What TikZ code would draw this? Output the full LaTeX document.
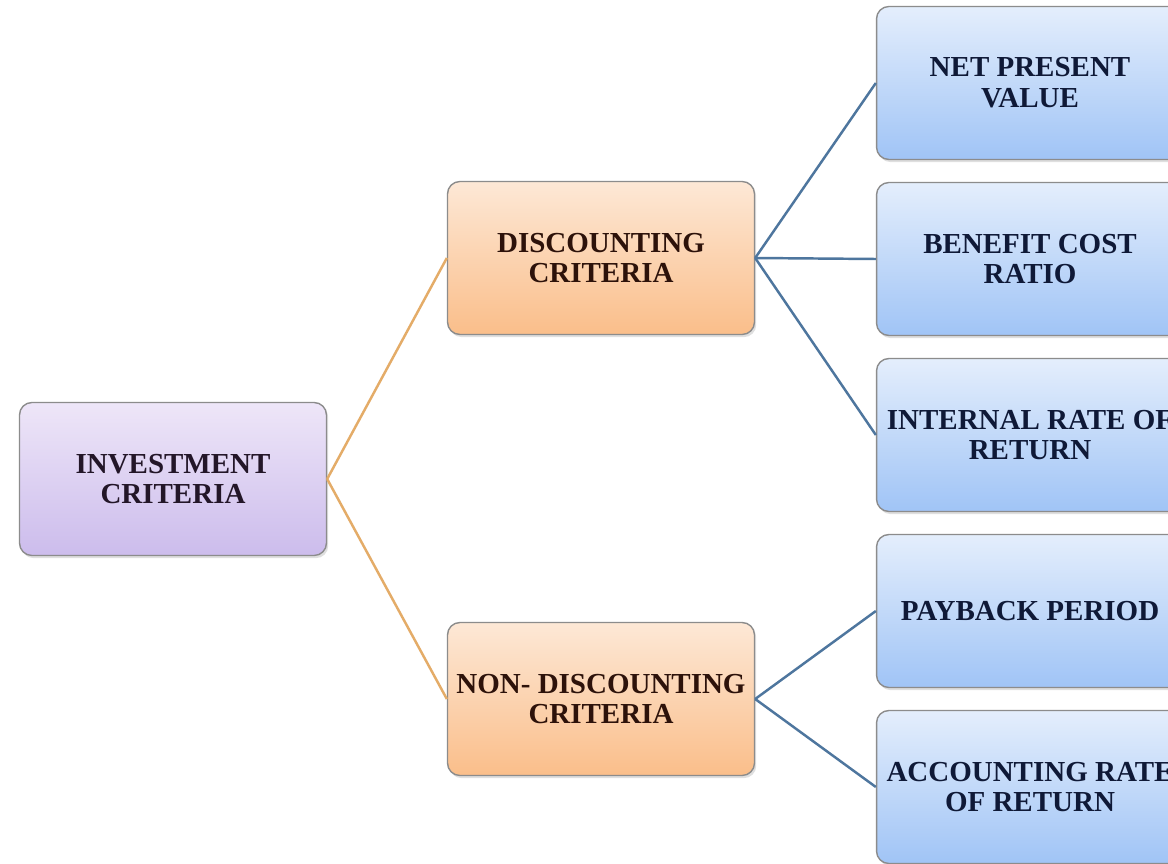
\documentclass[tikz,border=0pt]{standalone}
\usepackage{fontspec}
\setmainfont{Liberation Serif}
\usetikzlibrary{shadows}
\definecolor{invTop}{RGB}{238,230,248}
\definecolor{invBot}{RGB}{204,188,236}
\definecolor{disTop}{RGB}{253,232,214}
\definecolor{disBot}{RGB}{250,190,138}
\definecolor{resTop}{RGB}{228,238,252}
\definecolor{resBot}{RGB}{160,196,246}
\definecolor{edgeO}{RGB}{228,172,104}
\definecolor{edgeB}{RGB}{78,118,158}

\begin{document}
\begin{tikzpicture}[x=0.02cm,y=-0.02cm,
  box/.style={draw=black!45,line width=0.8pt,rounded corners=7pt,minimum width=6.14cm,minimum height=3.06cm,inner xsep=0pt,
    align=center,font=\bfseries\fontsize{16.5}{17.5}\selectfont,drop shadow={opacity=0.25,shadow xshift=1pt,shadow yshift=-1.5pt}},
  invbox/.style={box,top color=invTop,bottom color=invBot,text={rgb,255:red,35;green,22;blue,40}},
  disbox/.style={box,top color=disTop,bottom color=disBot,text={rgb,255:red,45;green,18;blue,10}},
  resbox/.style={box,top color=resTop,bottom color=resBot,text={rgb,255:red,15;green,25;blue,55}},
  linkO/.style={draw=edgeO,line width=1.4pt},
  linkB/.style={draw=edgeB,line width=1.4pt}]
\useasboundingbox (0,0) rectangle (1168,864);
\fill[white] (0,0) rectangle (1168,864);
% tree
\node[invbox] (inv) at (173,479) {INVESTMENT\\CRITERIA};
\node[disbox] (disc) at (601,258) {DISCOUNTING\\CRITERIA};
\node[disbox] (nondisc) at (601,699) {NON- DISCOUNTING\\CRITERIA};
\node[resbox] (npv) at (1030,83) {NET PRESENT\\VALUE};
\node[resbox] (bcr) at (1030,259) {BENEFIT COST\\RATIO};
\node[resbox] (irr) at (1030,435) {INTERNAL RATE OF\\RETURN};
\node[resbox] (pbp) at (1030,611) {PAYBACK PERIOD};
\node[resbox] (arr) at (1030,787) {ACCOUNTING RATE\\OF RETURN};
% links
\draw[linkO] (inv.east) -- (disc.west);
\draw[linkO] (inv.east) -- (nondisc.west);
\foreach \t in {npv,bcr,irr} \draw[linkB] (disc.east) -- (\t.west);
\foreach \t in {pbp,arr} \draw[linkB] (nondisc.east) -- (\t.west);
\end{tikzpicture}
\end{document}
